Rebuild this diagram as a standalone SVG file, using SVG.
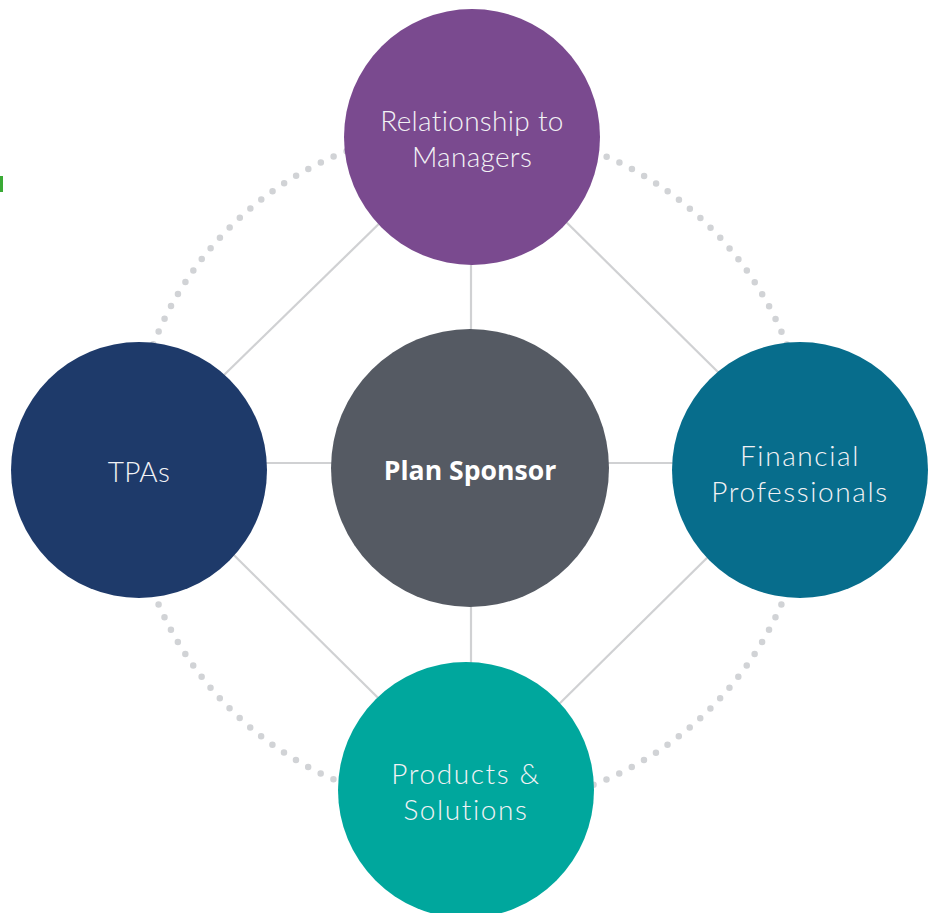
<svg xmlns="http://www.w3.org/2000/svg" width="936" height="913" viewBox="0 0 936 913">
<style>
.conn line{stroke:#d0d1d3;stroke-width:2.2;fill:none}
.dots{fill:none;stroke:#d1d3d6;stroke-width:6.5;stroke-linecap:round;stroke-dasharray:0 14.05}
.lbl{font-family:Lato,"Open Sans","Liberation Sans",sans-serif;font-weight:300;font-size:28px;fill:#f2f2f5;text-anchor:middle;letter-spacing:0.3px}
.wide{letter-spacing:1.6px}
.bold{font-family:"Open Sans",Lato,"Liberation Sans",sans-serif;font-weight:700;font-size:26.6px;fill:#ffffff;text-anchor:middle}
</style>
<rect width="936" height="913" fill="#ffffff"/>
<rect x="0" y="176" width="3" height="16" fill="#3aaa35"/>
<circle class="dots" cx="470" cy="468" r="340"/>
<g class="conn" id="connectors">
<line x1="472" y1="133" x2="139" y2="458"/>
<line x1="472" y1="129" x2="800" y2="453"/>
<line x1="139" y1="461" x2="466" y2="785"/>
<line x1="800" y1="466" x2="466" y2="796"/>
<line x1="139" y1="463" x2="800" y2="463"/>
<line x1="471" y1="137" x2="471" y2="790"/>
</g>
<g id="top">
<circle cx="472" cy="137" r="128" fill="#7a4a8f"/>
<text class="lbl" x="472" y="131">Relationship to</text>
<text class="lbl" x="472" y="167">Managers</text>
</g>
<g id="left">
<circle cx="139" cy="470" r="128" fill="#1e3a6a"/>
<text class="lbl" x="139" y="482">TPAs</text>
</g>
<g id="right">
<circle cx="800" cy="470" r="128" fill="#076d8c"/>
<text class="lbl wide" x="800" y="466">Financial</text>
<text class="lbl wide" x="800" y="502">Professionals</text>
</g>
<g id="bottom">
<circle cx="466" cy="790" r="128" fill="#00a79d"/>
<text class="lbl wide" x="466" y="784">Products &amp;</text>
<text class="lbl wide" x="466" y="820">Solutions</text>
</g>
<g id="center">
<circle cx="470" cy="468" r="139" fill="#555a63"/>
<text class="bold" x="470" y="480">Plan Sponsor</text>
</g>
</svg>
